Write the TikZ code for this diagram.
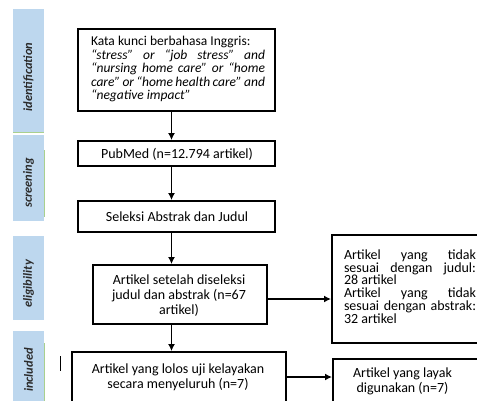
\documentclass[tikz,border=0pt]{standalone}
\usepackage{fontspec}
\setmainfont{Carlito}
\usetikzlibrary{arrows.meta}
\definecolor{tabblue}{HTML}{BDD7EE}
\definecolor{tabgreen}{HTML}{A9D08E}
\definecolor{labelgray}{HTML}{2B2B2B}
\begin{document}
\begin{tikzpicture}[x=1pt,y=-1pt,
  box/.style={draw=black, line width=1.9pt, fill=white, inner sep=0pt},
  tab/.style={fill=tabblue, draw=none, inner sep=0pt, anchor=north west},
  tablabel/.style={rotate=90, inner sep=0pt, text=labelgray,
    font=\fontsize{12.5}{14}\selectfont\bfseries\itshape},
  arr/.style={line width=1.8pt, -{Latex[length=7pt,width=7pt]}},
  txt/.style={inner sep=0pt, align=center, font=\fontsize{14}{15}\selectfont},
  jtxt/.style={inner sep=0pt, align=left}]
\useasboundingbox (0,0) rectangle (477,400);
\clip (0,0) rectangle (477,400);

% side tabs
\node[tab, minimum width=31pt, minimum height=123pt] (t1) at (13,9) {};
\node[tab, minimum width=31pt, minimum height=86pt] (t2) at (13,135) {};
\node[tab, minimum width=31pt, minimum height=84pt] (t3) at (13,236) {};
\node[tab, minimum width=31pt, minimum height=75pt] (t4) at (13,331) {};
\draw[tabgreen, line width=0.8pt] (t1.south west) -- (t1.south east);
\draw[tabgreen, line width=0.8pt] ([yshift=-15pt]t2.north east) -- ([yshift=4pt]t2.south east);
\draw[tabgreen, line width=0.8pt] ([yshift=-12pt]t4.north east) -- (t4.south east);
\node[tablabel] (l1) at (28.5,77) {identification};
\node[tablabel] (l2) at (28.5,183) {screening};
\node[tablabel] (l3) at (28.5,284) {eligibility};
\node[tablabel] (l4) at (28.5,370) {included};

% stray mark
\coordinate (s1) at (60,356);
\coordinate (s2) at (60,371);
\draw[line width=0.8pt] (s1) -- (s2);

% main boxes
\node[box, minimum width=197pt, minimum height=82pt] (b1) at (176.5,70) {};
\node[jtxt, font=\fontsize{13.5}{13.5}\selectfont] (b1t) at (178,69) {%
Kata kunci berbahasa Inggris:\\
\makebox[174pt][s]{\itshape “stress” or “job stress” and}\\
\makebox[174pt][s]{\itshape “nursing home care” or “home}\\
\makebox[174pt][s]{\itshape care” or “home health care” and}\\
{\itshape “negative impact”}};

\node[box, minimum width=197pt, minimum height=25pt] (b2) at (176.5,153.5) {};
\node[txt] (b2t) at (177,154) {PubMed (n=12.794 artikel)};

\node[box, minimum width=197pt, minimum height=31pt] (b3) at (176.5,216.5) {};
\node[txt] (b3t) at (177,216.5) {Seleksi Abstrak dan Judul};

\node[box, minimum width=174pt, minimum height=59pt] (b4) at (180,294.5) {};
\node[txt] (b4t) at (179,296) {Artikel setelah diseleksi\\judul dan abstrak (n=67\\artikel)};

\node[box, minimum width=214pt, minimum height=49.5pt] (b5) at (179,376.75) {};
\node[txt] (b5t) at (178,377) {Artikel yang lolos uji kelayakan\\secara menyeluruh (n=7)};

\node[box, minimum width=160pt, minimum height=108pt, anchor=north west] (b6) at (331,234) {};
\node[jtxt, font=\fontsize{14}{12.8}\selectfont] (b6t) at (410,286.5) {%
\makebox[132pt][s]{Artikel yang tidak}\\
\makebox[132pt][s]{sesuai dengan judul:}\\
28 artikel\\
\makebox[132pt][s]{Artikel yang tidak}\\
\makebox[132pt][s]{sesuai dengan abstrak:}\\
32 artikel};

\node[box, minimum width=160pt, minimum height=46pt, anchor=north west] (b7) at (332,358) {};
\node[txt] (b7t) at (402.5,381.5) {Artikel yang layak\\digunakan (n=7)};

% connectors
\coordinate (ax) at (171.5,0);
\coordinate (ay1) at (0,299);
\coordinate (ay2) at (0,377);
\draw[arr] (b1.south -| ax) -- (b2.north -| ax);
\draw[arr] (b2.south -| ax) -- (b3.north -| ax);
\draw[arr] (b3.south -| ax) -- (b4.north -| ax);
\draw[arr] (b4.south -| ax) -- (b5.north -| ax);
\draw[arr] (b4.east |- ay1) -- (b6.west |- ay1);
\draw[arr] (b5.east |- ay2) -- (b7.west |- ay2);
\end{tikzpicture}
\end{document}
